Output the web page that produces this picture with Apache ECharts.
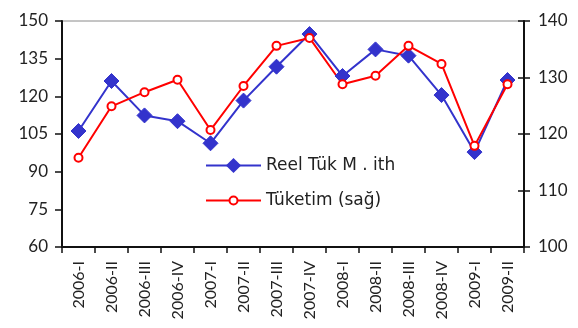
<!DOCTYPE html>
<html><head><meta charset="utf-8">
<script src="https://cdn.jsdelivr.net/npm/echarts@6/dist/echarts.min.js"></script>
<style>html,body{margin:0;padding:0;background:#fff}#c{width:578px;height:328px}</style>
</head><body><div id="c"></div>
<script>
const categories = ['2006-I','2006-II','2006-III','2006-IV','2007-I','2007-II','2007-III','2007-IV','2008-I','2008-II','2008-III','2008-IV','2009-I','2009-II'];
const reelTukMIth = [106.2,126.1,112.4,110.1,101.3,118.3,131.8,144.8,128.1,138.7,136.2,120.5,97.8,126.5];
const tuketim = [115.8,124.9,127.4,129.6,120.7,128.5,135.6,137.0,128.8,130.3,135.6,132.4,117.9,128.8];
const seriesNames = ['Reel Tük M . ith','Tüketim (sağ)'];

const font = 'Lato';
const legendFont = 'DejaVu Sans';
const chart = echarts.init(document.getElementById('c'));
chart.setOption({
  animation:false,
  textStyle:{fontFamily:font},
  grid:{left:62,right:54,top:21,bottom:81,show:true,borderColor:'#8a8a8a',borderWidth:1},
  legend:[
    {orient:'vertical',left:200,top:152,itemWidth:55,itemHeight:19,
     textStyle:{fontFamily:legendFont,fontSize:17,color:'#222'},
     data:[seriesNames[0]]},
    {orient:'vertical',left:200,top:187,itemWidth:55,itemHeight:10,
     textStyle:{fontFamily:legendFont,fontSize:17,color:'#222'},
     data:[seriesNames[1]]}
  ],
  xAxis:{
    type:'category',data:categories,boundaryGap:true,
    axisLine:{lineStyle:{color:'#111',width:2}},
    axisTick:{show:true,length:6,lineStyle:{color:'#111',width:1.5}},
    axisLabel:{rotate:90,margin:14,fontSize:16,color:'#222',fontFamily:font}
  },
  yAxis:[
    {type:'value',min:60,max:150,interval:15,position:'left',
     splitLine:{show:false},
     axisLine:{show:true,lineStyle:{color:'#111',width:2}},
     axisTick:{show:true,length:7,lineStyle:{color:'#111',width:1.5}},
     axisLabel:{fontSize:17,color:'#222',margin:14,fontFamily:font}},
    {type:'value',min:100,max:140,interval:10,position:'right',
     splitLine:{show:false},
     axisLine:{show:true,lineStyle:{color:'#111',width:2}},
     axisTick:{show:true,length:6,lineStyle:{color:'#111',width:1.5}},
     axisLabel:{fontSize:17,color:'#222',margin:14,fontFamily:font}},
    {type:'value',min:100,max:140,interval:10,position:'right',
     splitLine:{show:false},
     axisLine:{show:false},
     axisTick:{show:true,inside:true,length:6,lineStyle:{color:'#111',width:1.5}},
     axisLabel:{show:false}}
  ],
  series:[
    {name:seriesNames[0],type:'line',yAxisIndex:0,data:reelTukMIth,
     symbol:'diamond',symbolSize:15,
     lineStyle:{color:'#3333cc',width:2},
     itemStyle:{color:'#3333cc',borderColor:'#3333cc'}},
    {name:seriesNames[1],type:'line',yAxisIndex:1,data:tuketim,
     symbol:'circle',symbolSize:8,
     lineStyle:{color:'#ff0000',width:2},
     itemStyle:{color:'#ffffff',borderColor:'#ff0000',borderWidth:2}}
  ]
});
</script></body></html>
